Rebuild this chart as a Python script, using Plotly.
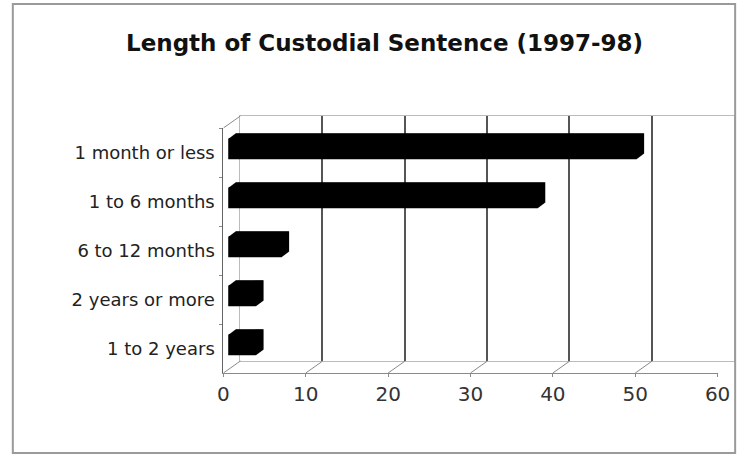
import plotly.graph_objects as go

# ---- data ----
categories = ["1 month or less", "1 to 6 months", "6 to 12 months", "2 years or more", "1 to 2 years"]
values = [49.6, 37.6, 6.5, 3.4, 3.4]
x_ticks = [0, 10, 20, 30, 40, 50, 60]
grid_ticks = [10, 20, 30, 40, 50]
title_text = "Length of Custodial Sentence (1997-98)"

# ---- geometry (pixels) ----
W, H = 754, 455
fx0, fx1, fy0, fy1 = 223, 730, 128, 373   # front plane
DX, DY = 17, 12                            # depth offset


def px(x):
    return x / W


def py(y):
    return (H - y) / H


fig = go.Figure()

# back wall subplot (x / y): invisible trace so axes render
fig.add_trace(go.Scatter(x=[None], y=[None], xaxis="x", yaxis="y",
                         showlegend=False, hoverinfo="skip"))

# bars on the front subplot (x2 / y2), layered copies give 3D depth
ppu_x = (fx1 - fx0) / (x_ticks[-1] - x_ticks[0])
ppu_y = (fy1 - fy0) / len(categories)
bw = 0.42
N = 12
for i in range(N):
    t = i / (N - 1)
    ddx = 5 + 7.5 * t
    ddy = 3.6 + 5.4 * t
    fig.add_trace(go.Bar(
        y=categories, x=values, orientation="h",
        base=ddx / ppu_x, width=bw, offset=-bw / 2 - ddy / ppu_y,
        marker=dict(color="#000000", line=dict(width=0)),
        xaxis="x2", yaxis="y2", showlegend=False, hoverinfo="skip"))

shapes = []
# floor connectors at each tick
for v in x_ticks:
    shapes.append(dict(type="line", xref="x2", yref="paper",
                       xsizemode="pixel", xanchor=v, x0=0, x1=DX,
                       ysizemode="pixel", yanchor=py(fy1), y0=0, y1=DY,
                       line=dict(color="#8a8a8a", width=1)))
# top-left connector of the side wall
shapes.append(dict(type="line", xref="x2", yref="paper",
                   xsizemode="pixel", xanchor=0, x0=0, x1=DX,
                   ysizemode="pixel", yanchor=py(fy0), y0=0, y1=DY,
                   line=dict(color="#8a8a8a", width=1)))
# outer frame
shapes.append(dict(type="rect", xref="paper", yref="paper",
                   x0=px(7), x1=px(748), y0=py(453), y1=py(4),
                   line=dict(color="#9a9a9a", width=2)))

fig.update_layout(
    width=W, height=H,
    margin=dict(l=0, r=0, t=0, b=0),
    paper_bgcolor="white", plot_bgcolor="rgba(0,0,0,0)",
    barmode="overlay",
    showlegend=False,
    font=dict(family="DejaVu Sans", color="#222222"),
    shapes=shapes,
    annotations=[dict(text="<b>" + title_text + "</b>", xref="paper", yref="paper",
                      x=px(388), y=py(43), xanchor="center", yanchor="middle",
                      showarrow=False, font=dict(family="DejaVu Sans", size=23, color="#111111"))],
    # back wall
    xaxis=dict(domain=[px(fx0 + DX), px(fx1 + DX)], range=[x_ticks[0], x_ticks[-1]],
               tickvals=grid_ticks, showticklabels=False, ticks="",
               showgrid=True, gridcolor="#555555", gridwidth=1.5,
               showline=True, mirror=True, linecolor="#bbbbbb", linewidth=1,
               zeroline=False, anchor="y", fixedrange=True),
    yaxis=dict(domain=[py(fy1 - DY), py(fy0 - DY)], range=[0, 1],
               showticklabels=False, ticks="", showgrid=False,
               showline=True, mirror=True, linecolor="#bbbbbb", linewidth=1,
               zeroline=False, anchor="x", fixedrange=True),
    # front plane
    xaxis2=dict(domain=[px(fx0), px(fx1)], range=[x_ticks[0], x_ticks[-1]],
                tickvals=x_ticks, showgrid=False, zeroline=False,
                showline=True, linecolor="#8a8a8a", linewidth=1,
                ticks="outside", ticklen=3, tickcolor="#8a8a8a",
                tickfont=dict(size=20, color="#333333"),
                anchor="y2", fixedrange=True),
    yaxis2=dict(domain=[py(fy1), py(fy0)], type="category",
                categoryorder="array", categoryarray=categories,
                autorange="reversed", showgrid=False, zeroline=False,
                showline=True, linecolor="#666666", linewidth=1,
                ticks="outside", tickson="boundaries", ticklen=3, tickcolor="#888888",
                ticklabelstandoff=4,
                tickfont=dict(size=18, color="#222222"),
                anchor="x2", fixedrange=True),
)

fig.write_html("out.html", config={"displayModeBar": False},
               post_script="document.body.style.margin='0px';")
